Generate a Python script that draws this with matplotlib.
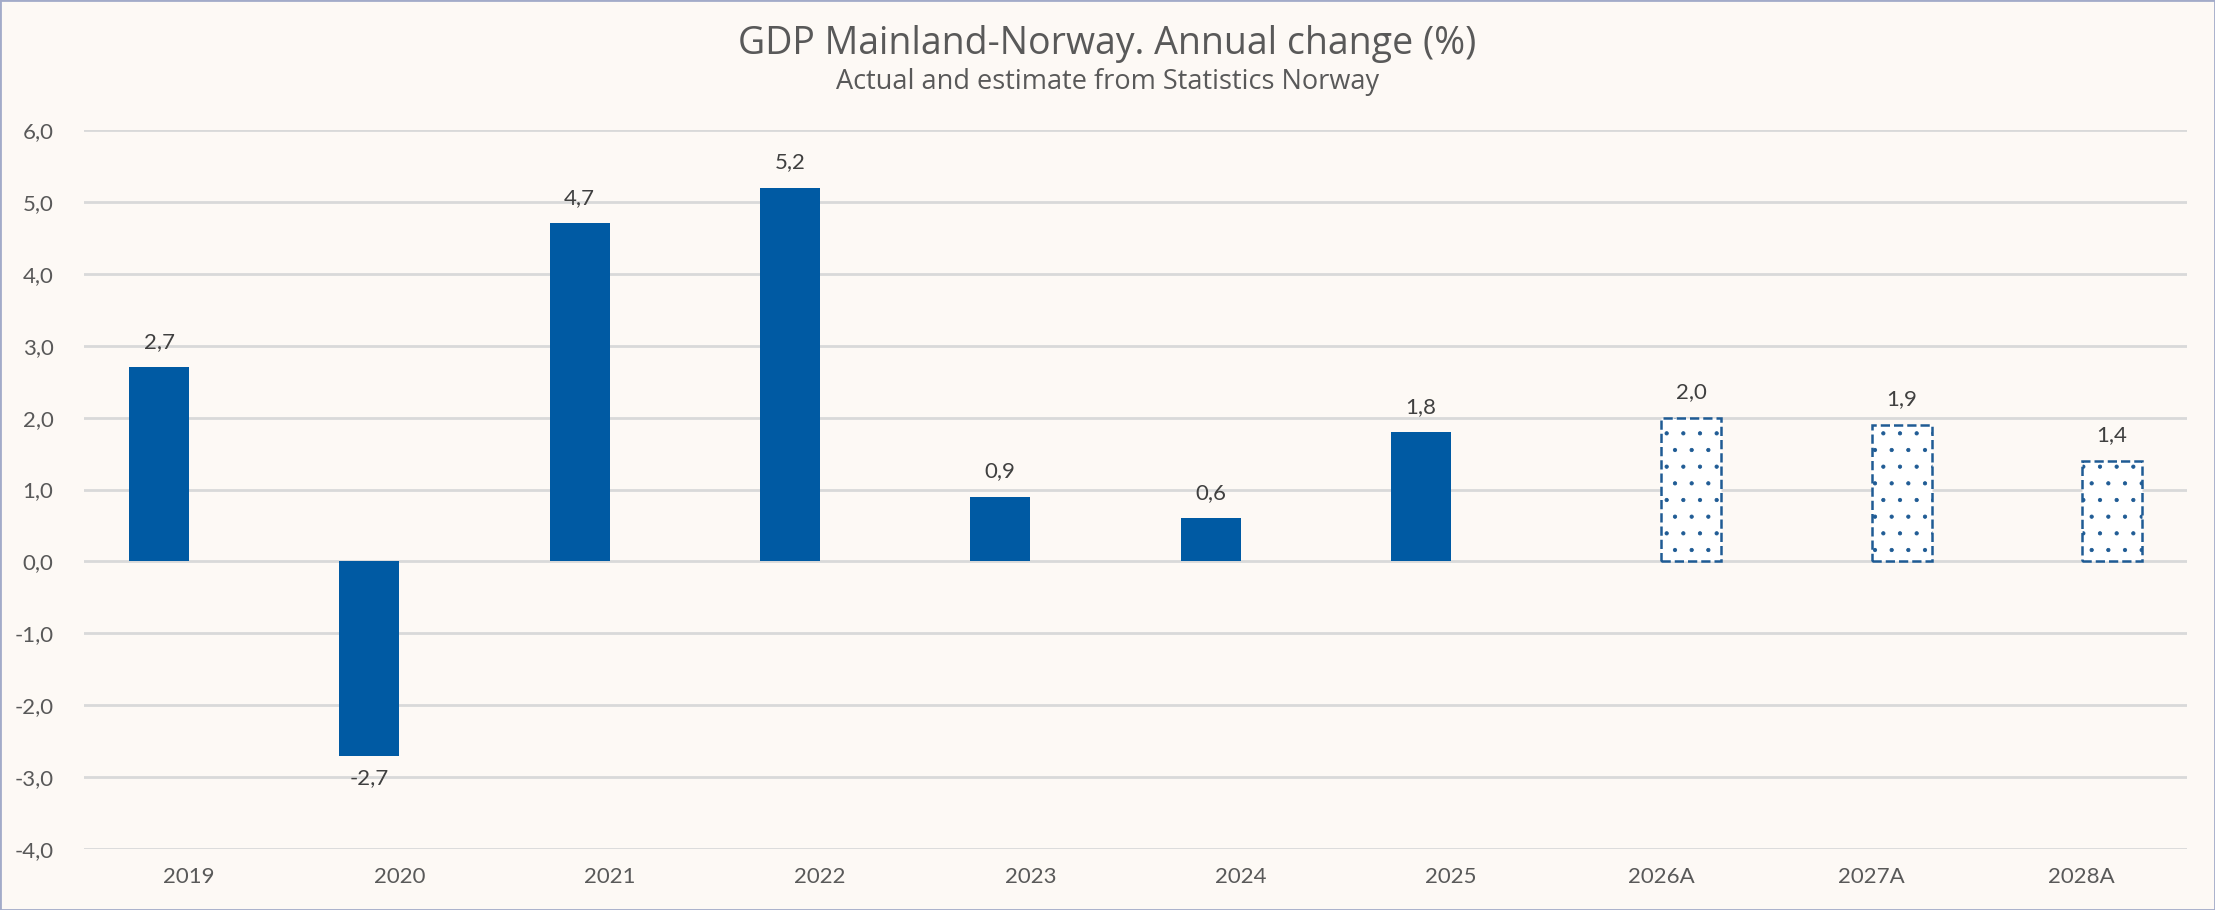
import numpy as np
import matplotlib.pyplot as plt
from matplotlib.patches import Rectangle

# Data
categories = ['2019', '2020', '2021', '2022', '2023', '2024', '2025', '2026A', '2027A', '2028A']
actual = [2.7, -2.7, 4.7, 5.2, 0.9, 0.6, 1.8, np.nan, np.nan, np.nan]
estimate = [np.nan, np.nan, np.nan, np.nan, np.nan, np.nan, np.nan, 2.0, 1.9, 1.4]
y_ticks = [-4, -3, -2, -1, 0, 1, 2, 3, 4, 5, 6]

bg = '#fdf9f5'
blue = '#005aa3'
text_col = '#595959'
label_col = '#404040'

plt.rcParams['font.family'] = ['Lato', 'DejaVu Sans']
plt.rcParams['hatch.linewidth'] = 0.6

fig = plt.figure(figsize=(22.15, 9.10), dpi=100, facecolor=bg)
ax = fig.add_axes([84 / 2215, 1 - 849 / 910, (2187 - 84) / 2215, (849 - 130) / 910])
ax.set_facecolor(bg)

x = np.arange(len(categories))
w = 0.286

bars_a = ax.bar(x - w / 2, actual, w, color=blue, zorder=3)
bars_e = ax.bar(x + w / 2, estimate, w, color='white', edgecolor='#1f5b94',
                hatch='.', linestyle='--', linewidth=1.8, zorder=3)

def fmt(v):
    return f'{v:.1f}'.replace('.', ',')

for xs, vals in [(x - w / 2, actual), (x + w / 2, estimate)]:
    for xi, v in zip(xs, vals):
        if np.isnan(v):
            continue
        if v >= 0:
            ax.annotate(fmt(v), (xi, v), xytext=(0, 11), textcoords='offset points',
                        ha='center', va='bottom', fontsize=16, color=label_col)
        else:
            ax.annotate(fmt(v), (xi, v), xytext=(0, -9), textcoords='offset points',
                        ha='center', va='top', fontsize=16, color=label_col)

ax.set_xlim(-0.5, len(categories) - 0.5)
ax.set_ylim(-4, 6)
ax.set_yticks(y_ticks)
ax.set_yticklabels([fmt(t) for t in y_ticks])
ax.set_xticks(x)
ax.set_xticklabels(categories)
ax.tick_params(axis='both', length=0, labelsize=16, labelcolor=text_col)
ax.tick_params(axis='y', pad=22)
ax.tick_params(axis='x', pad=13)
ax.grid(axis='y', color='#d9d9d9', linewidth=2, zorder=0)
for s in ax.spines.values():
    s.set_visible(False)

fig.text(0.5, 1 - 44 / 910, 'GDP Mainland-Norway. Annual change (%)', ha='center', va='center',
         fontsize=27, color=text_col, family=['Open Sans', 'DejaVu Sans'])
fig.text(0.5, 1 - 82 / 910, 'Actual and estimate from Statistics Norway', ha='center', va='center',
         fontsize=19.5, color=text_col, family=['Open Sans', 'DejaVu Sans'])

fig.patches.append(Rectangle((0, 0), 1, 1, transform=fig.transFigure, fill=False,
                             edgecolor='#a3abc9', linewidth=2))

fig.savefig('out.png', dpi=100, facecolor=bg)
